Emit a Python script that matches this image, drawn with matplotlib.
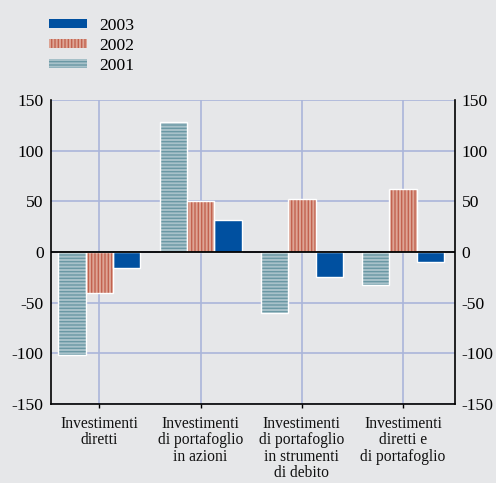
import numpy as np
import matplotlib.pyplot as plt

# dati
categorie = ["Investimenti\ndiretti",
             "Investimenti\ndi portafoglio\nin azioni",
             "Investimenti\ndi portafoglio\nin strumenti\ndi debito",
             "Investimenti\ndiretti e\ndi portafoglio"]
anni = ["2001", "2002", "2003"]
val_2001 = [-102, 128, -60, -33]
val_2002 = [-41, 50, 52, 62]
val_2003 = [-16, 31, -25, -10]

plt.rcParams['font.family'] = ['Liberation Serif', 'DejaVu Serif']
plt.rcParams['axes.unicode_minus'] = False
plt.rcParams['hatch.linewidth'] = 1.0

bg = '#E6E7E9'
fig = plt.figure(figsize=(4.96, 4.83), dpi=100, facecolor=bg)
ax = fig.add_axes([0.102, 0.164, 0.815, 0.629], facecolor=bg)

x = np.arange(len(categorie))
w = 0.27

# stile per serie: (facecolor, colore tratteggio, tratteggio)
stili = {
    "2001": ('#A8C2CA', '#6A98A4', '-----'),
    "2002": ('#DDA595', '#C2624F', '|||||'),
    "2003": ('#0050A0', '#0050A0', None),
}
serie = {"2001": val_2001, "2002": val_2002, "2003": val_2003}
offset = {"2001": -w, "2002": 0.0, "2003": w}

handles = {}
for anno in anni:
    fc, hc, hatch = stili[anno]
    b = ax.bar(x + offset[anno], serie[anno], w, color=fc, edgecolor=hc,
               hatch=hatch, linewidth=0, zorder=3)
    ax.bar(x + offset[anno], serie[anno], w, facecolor='none',
           edgecolor='white', linewidth=1.0, zorder=4)
    handles[anno] = b

ax.axhline(0, color='black', linewidth=1.3, zorder=5)

ax.set_xlim(-0.48, 3.51)
ax.set_ylim(-150, 150)
ax.set_yticks([-150, -100, -50, 0, 50, 100, 150])
ax.set_xticks(x)
ax.set_xticklabels(categorie, fontsize=11.2, linespacing=1.05)
ax.grid(True, color='#AAB5DA', linewidth=1.2, zorder=0)
ax.set_axisbelow(True)

ax.tick_params(axis='y', length=0, labelsize=12.6, pad=5,
               left=True, right=True, labelleft=True, labelright=True)
ax.tick_params(axis='x', length=3, width=1, direction='out', pad=5.5, colors='black')
ax.tick_params(axis='x', labelcolor='#111111')

for s in ['left', 'right', 'bottom']:
    ax.spines[s].set_color('black')
    ax.spines[s].set_linewidth(1.2)
ax.spines['top'].set_visible(False)

leg = fig.legend([handles["2003"], handles["2002"], handles["2001"]],
                 ["2003", "2002", "2001"],
                 loc='upper left', bbox_to_anchor=(0.067, 0.995),
                 frameon=False, fontsize=12.6, handlelength=2.17,
                 handleheight=0.4, handletextpad=0.7, labelspacing=0.21)

fig.savefig("out.png", dpi=100, facecolor=bg)
